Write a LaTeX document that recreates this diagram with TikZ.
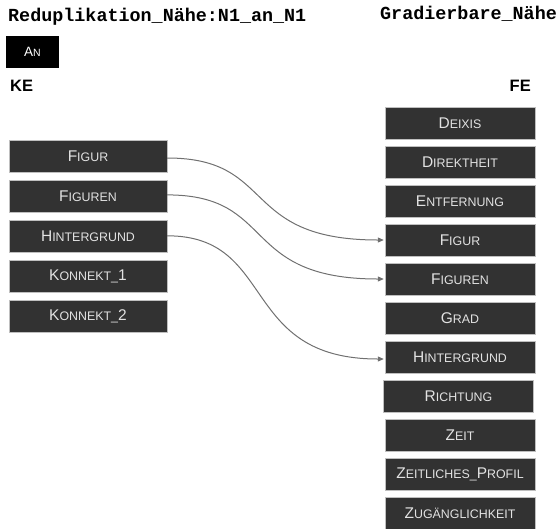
\documentclass[tikz,border=0pt]{standalone}
\usepackage{fontspec}
\setmainfont{Liberation Sans}
\setmonofont{Liberation Mono}
\usetikzlibrary{arrows.meta}
\definecolor{boxfill}{HTML}{323232}
\definecolor{boxtext}{HTML}{E2E2E2}
\definecolor{linkcol}{HTML}{707070}
\newcommand{\Bg}[1]{{\fontsize{15.5}{16}\selectfont #1}}
\tikzset{
  febox/.style={fill=boxfill, draw=white!75!black, line width=0.4pt, minimum width=150pt, minimum height=32pt, inner sep=0pt, text=boxtext, font=\fontsize{12.4}{13}\selectfont},
  kebox/.style={febox, minimum width=158pt},
  link/.style={draw=linkcol, line width=1pt, -{Triangle[length=6pt,width=5pt]}},
  title/.style={font=\ttfamily\bfseries\fontsize{18.4}{20}\selectfont, anchor=west, inner sep=0pt},
  hdr/.style={font=\bfseries\fontsize{16.5}{18}\selectfont, inner sep=0pt}
}
\begin{document}
\begin{tikzpicture}[x=1pt,y=-1pt]
\useasboundingbox (0,0) rectangle (559,528);
\node[title] (t1) at (8,17) {Reduplikation\_Nähe:N1\_an\_N1};
\node[title] (t2) at (380,14) {Gradierbare\_Nähe};
\node[fill=black, minimum width=53pt, minimum height=32pt, inner sep=0pt, text=white, font=\fontsize{10.5}{12}\selectfont] (an) at (32.5,52) {{\fontsize{13.5}{14}\selectfont A}N};
\node[hdr, anchor=west] (ke) at (10,86) {KE};
\node[hdr, anchor=east] (fe) at (531,86) {FE};
% KE boxes
\node[kebox] (kfigur) at (88,156.5) {\Bg{F}IGUR};
\node[kebox] (kfiguren) at (88,196.4) {\Bg{F}IGUREN};
\node[kebox] (khinter) at (88,236.3) {\Bg{H}INTERGRUND};
\node[kebox] (kk1) at (88,276.2) {\Bg{K}ONNEKT\_\Bg{1}};
\node[kebox] (kk2) at (88,316.1) {\Bg{K}ONNEKT\_\Bg{2}};
% FE boxes
\node[febox] (fdeixis) at (460,123) {\Bg{D}EIXIS};
\node[febox] (fdirekt) at (460,162) {\Bg{D}IREKTHEIT};
\node[febox] (fentf) at (460,201) {\Bg{E}NTFERNUNG};
\node[febox] (ffigur) at (460,240) {\Bg{F}IGUR};
\node[febox] (ffiguren) at (460,279) {\Bg{F}IGUREN};
\node[febox] (fgrad) at (460,318) {\Bg{G}RAD};
\node[febox] (fhinter) at (460,357) {\Bg{H}INTERGRUND};
\node[febox] (fricht) at (458.5,396) {\Bg{R}ICHTUNG};
\node[febox] (fzeit) at (460,435) {\Bg{Z}EIT};
\node[febox] (fzprof) at (460,474) {\Bg{Z}EITLICHES\_\Bg{P}ROFIL};
\node[febox] (fzug) at (460,513) {\Bg{Z}UGÄNGLICHKEIT};
% links
\draw[link] ([yshift=-1.5pt]kfigur.east) .. controls +(110,0) and +(-145,0) .. ([xshift=-1pt]ffigur.west);
\draw[link] ([yshift=1.5pt]kfiguren.east) .. controls +(110,0) and +(-145,0) .. ([xshift=-1pt]ffiguren.west);
\draw[link] ([yshift=0.5pt]khinter.east) .. controls +(110,0) and +(-145,0) .. ([xshift=-1pt,yshift=-2pt]fhinter.west);
\end{tikzpicture}
\end{document}
